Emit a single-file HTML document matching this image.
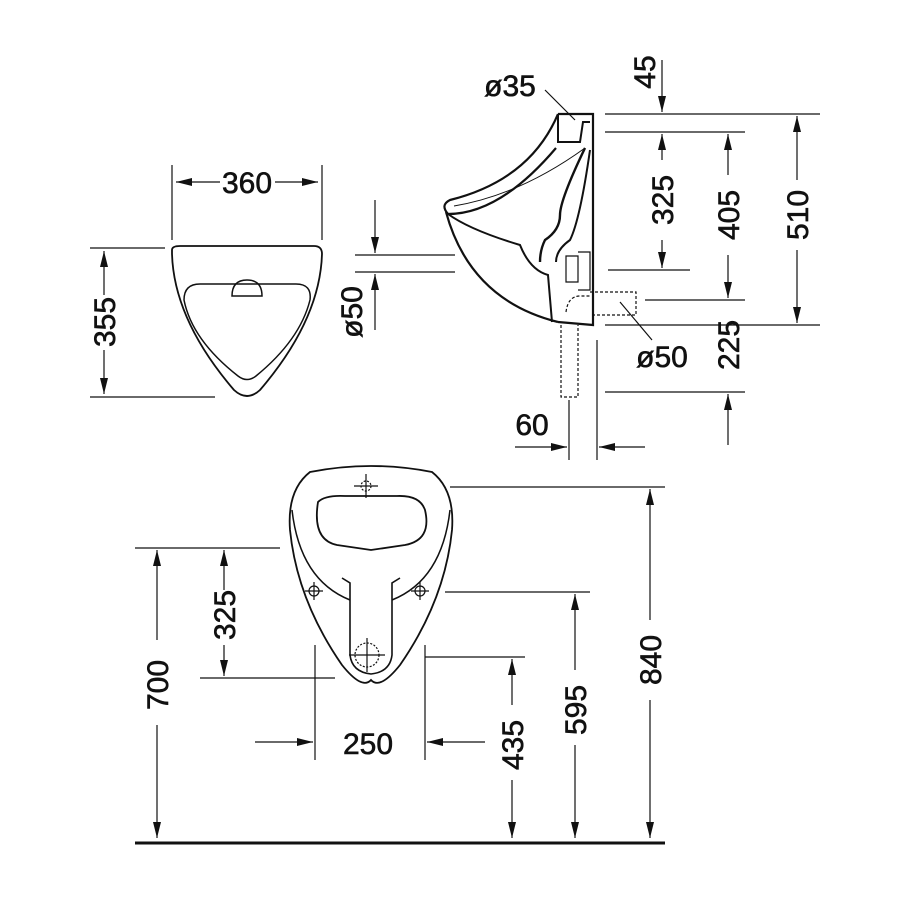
<!DOCTYPE html>
<html><head><meta charset="utf-8"><style>html,body{margin:0;padding:0;background:#fff}svg{display:block}text{font-family:"Liberation Sans Narrow","Liberation Sans",sans-serif;font-size:30px;fill:#111;stroke:#111;stroke-width:0.6}</style></head><body>
<svg width="900" height="900" viewBox="0 0 900 900" xmlns="http://www.w3.org/2000/svg">
<defs><marker id="a" markerWidth="16" markerHeight="8" refX="16" refY="4" orient="auto" markerUnits="userSpaceOnUse"><path d="M0,0 L16,4 L0,8 z" fill="#111"/></marker></defs>
<g stroke="#111" stroke-width="1.2" fill="none">
<path d="M172,250 Q172,246 180,246 L314,246 Q322,246 322,254 Q320,320 260,390 Q247,402 234,390 Q174,320 172,254 Z" stroke-width="1.8"/>
<path d="M184,300 Q184,284 200,284 L296,284 Q312,284 310,300 Q300,340 256,376 Q247,383 238,376 Q192,340 184,300 Z" stroke-width="1.5"/>
<path d="M232,296 Q232,280 247,280 Q262,280 262,296 Z" stroke-width="1.5"/>
<path d="M172,240 L172,165 M322,240 L322,165"/>
<path d="M220,182 L176,182" marker-end="url(#a)"/><path d="M275,182 L318,182" marker-end="url(#a)"/>
<path d="M90,248 L165,248 M90,397 L215,397"/>
<path d="M104,295 L104,251" marker-end="url(#a)"/><path d="M104,350 L104,394" marker-end="url(#a)"/>
<path d="M355,255 L455,255 M355,272 L455,272"/>
<path d="M375,200 L375,253" marker-end="url(#a)"/><path d="M375,330 L375,274" marker-end="url(#a)"/>
<path d="M558,114 L593,114 L593,325 L558,322" stroke-width="2.2"/>
<path d="M558,114 L558,142 L580,142 L583,122 L590,122" stroke-width="2"/>
<path d="M558,114 Q530,180 450,200 Q440,205 448,214 Q500,214 556,148" stroke-width="2.2"/>
<path d="M448,214 Q470,230 520,245 Q530,270 548,275 L552,322" stroke-width="2"/>
<path d="M446,212 Q470,300 558,322" stroke-width="2.2"/>
<path d="M454,206 Q520,195 585,148" stroke-width="1"/>
<path d="M585,148 Q560,200 560,215 Q560,230 545,240 Q540,250 540,262" stroke-width="2.4"/>
<path d="M590,150 Q580,220 570,240 Q556,250 556,262" stroke-width="2"/>
<path d="M566,256 L578,256 L578,282 L566,282 Z M578,252 L590,252 L590,290 L578,290"/>
<path d="M561,325 L561,397 L578,397 L578,325 M566,312 Q568,296 580,296 L590,296" stroke-dasharray="3,2"/>
<path d="M590,292 L636,292 L636,315 L590,315" stroke-dasharray="3,2"/>
<path d="M569,400 L569,460 M597,340 L597,460"/>
<path d="M515,447 L567,447" marker-end="url(#a)"/><path d="M645,447 L599,447" marker-end="url(#a)"/>
<path d="M605,114 L820,114 M605,132 L745,132 M608,270 L690,270 M645,300 L745,300 M605,325 L820,325 M605,392 L745,392"/>
<path d="M662,60 L662,112" marker-end="url(#a)"/>
<path d="M662,160 L662,134" marker-end="url(#a)"/><path d="M662,240 L662,268" marker-end="url(#a)"/>
<path d="M728,175 L728,134" marker-end="url(#a)"/><path d="M728,255 L728,298" marker-end="url(#a)"/>
<path d="M797,180 L797,116" marker-end="url(#a)"/><path d="M797,250 L797,323" marker-end="url(#a)"/>
<path d="M728,445 L728,394" marker-end="url(#a)"/>
<path d="M545,90 L575,120 M620,302 L652,340"/>
<path d="M310,472 Q371,460 432,472 Q455,490 452,530 Q445,600 400,665 Q380,690 371,680 Q362,690 342,665 Q297,600 290,530 Q287,490 310,472 Z" stroke-width="1.8"/>
<path d="M292,510 Q300,580 350,600 M450,510 Q442,580 392,600" stroke-width="1.5"/>
<path d="M318,502 Q325,495 345,496 L397,496 Q420,495 425,510 Q432,540 405,545 Q385,548 371,550 Q357,548 337,545 Q312,540 318,502 Z" stroke-width="1.8"/>
<path d="M342,578 L350,583 L350,655 Q352,672 371,674 Q390,672 392,655 L392,583 L400,578" stroke-width="1.6"/>
<circle cx="367" cy="655" r="12" stroke-dasharray="2,1.5"/><path d="M349,655 L385,655 M367,638 L367,672"/>
<circle cx="314" cy="591" r="5"/><path d="M305,591 L323,591 M314,582 L314,600"/>
<circle cx="420" cy="591" r="5"/><path d="M411,591 L429,591 M420,582 L420,600"/>
<circle cx="366" cy="486" r="5" stroke-dasharray="2,1.5"/><path d="M354,486 L378,486 M366,474 L366,498"/>
<path d="M450,487 L665,487 M135,548 L280,548 M200,678 L335,678 M445,592 L590,592 M425,657 L525,657"/>
<path d="M315,645 L315,760 M425,645 L425,760"/>
<path d="M255,742 L313,742" marker-end="url(#a)"/><path d="M485,742 L427,742" marker-end="url(#a)"/>
<path d="M650,620 L650,489" marker-end="url(#a)"/><path d="M650,700 L650,838" marker-end="url(#a)"/>
<path d="M157,640 L157,550" marker-end="url(#a)"/><path d="M157,725 L157,838" marker-end="url(#a)"/>
<path d="M224,590 L224,550" marker-end="url(#a)"/><path d="M224,645 L224,676" marker-end="url(#a)"/>
<path d="M575,670 L575,594" marker-end="url(#a)"/><path d="M575,745 L575,838" marker-end="url(#a)"/>
<path d="M512,705 L512,659" marker-end="url(#a)"/><path d="M512,780 L512,838" marker-end="url(#a)"/>
<path d="M135,843 L665,843" stroke-width="3"/>
</g>
<g text-anchor="middle">
<text x="247" y="193">360</text>
<text transform="translate(115,322) rotate(-90)">355</text>
<text transform="translate(362,312) rotate(-90)">ø50</text>
<text x="510" y="96">ø35</text>
<text transform="translate(655,72) rotate(-90)">45</text>
<text transform="translate(673,200) rotate(-90)">325</text>
<text transform="translate(739,215) rotate(-90)">405</text>
<text transform="translate(808,215) rotate(-90)">510</text>
<text transform="translate(739,345) rotate(-90)">225</text>
<text x="662" y="367">ø50</text>
<text x="532" y="435">60</text>
<text transform="translate(661,660) rotate(-90)">840</text>
<text transform="translate(168,685) rotate(-90)">700</text>
<text transform="translate(235,615) rotate(-90)">325</text>
<text transform="translate(586,710) rotate(-90)">595</text>
<text transform="translate(523,745) rotate(-90)">435</text>
<text x="368" y="754">250</text>
</g>
</svg>
</body></html>
